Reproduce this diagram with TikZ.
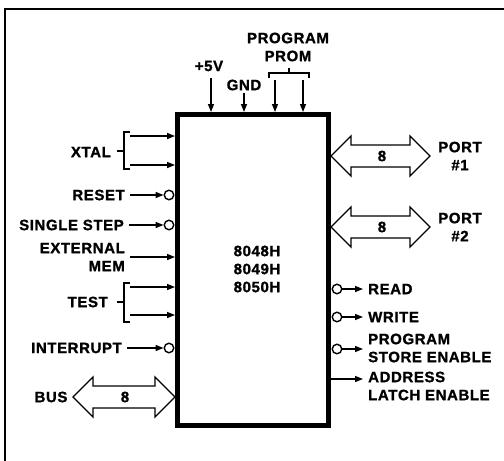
\documentclass[tikz,border=0pt]{standalone}
\usepackage{fontspec}
\setmainfont{Liberation Sans}[LetterSpace=4, BoldFeatures={FakeBold=1.2}]
\usetikzlibrary{arrows.meta}
\newcommand\fatarrow[3]{% left x, right x, y
  \draw[fat] (#1,#3) -- ++(20,-20) -- ++(0,9) -- (#2-20,#3-11) -- ++(0,-9) -- (#2,#3)
    -- ++(-20,20) -- ++(0,-9) -- (#1+20,#3+11) -- ++(0,9) -- cycle;}
\begin{document}
\begin{tikzpicture}[x=1pt,y=-1pt,
  lbl/.style={font=\bfseries\fontsize{15}{18}\selectfont, inner sep=0pt},
  sig/.style={line width=1.4pt, -{Triangle[length=8pt,width=6pt]}},
  wire/.style={line width=1.4pt},
  bub/.style={circle, draw, line width=1.4pt, minimum size=9.5pt, inner sep=0pt, fill=white},
  fat/.style={draw, line width=1.4pt, fill=white, line join=miter},
]
\useasboundingbox (0,0) rectangle (504,461);
% outer frame
\draw[line width=2.5pt] (5,475) -- (5,9) -- (515,9);
% chip
\node[draw, line width=5pt, minimum width=151pt, minimum height=311pt, inner sep=0pt] (chip) at (253,270) {};
\node[lbl, align=center] (partno) at (257,269) {8048H\\8049H\\8050H};

% top inputs
\node[lbl] (v5) at (209,66) {+5V};
\node[lbl] (gnd) at (244,85) {GND};
\node[lbl, align=center] (prom) at (288,47) {PROGRAM\\PROM};
\coordinate (v5s) at (211,78);
\coordinate (gnds) at (244,93);
\coordinate (p1s) at (275,80);
\coordinate (p2s) at (303,80);
\draw[sig] (v5s) -- (v5s |- chip.north);
\draw[sig] (gnds) -- (gnds |- chip.north);
\draw[sig] (p1s) -- (p1s |- chip.north);
\draw[sig] (p2s) -- (p2s |- chip.north);
\draw[wire] (269,78) -- (269,73) -- (309,73) -- (309,78);
\draw[wire] (289,73) -- (289,68);

% XTAL
\node[lbl, anchor=east] (xtal) at (111,152) {XTAL};
\draw[wire] (130,132) -- (124,132) -- (124,169) -- (130,169);
\draw[wire] (117,151) -- (124,151);
\coordinate (x1) at (130,136);
\coordinate (x2) at (130,165);
\draw[sig] (x1) -- (x1 -| chip.west);
\draw[sig] (x2) -- (x2 -| chip.west);

% RESET
\node[lbl, anchor=east] (reset) at (125,195) {RESET};
\node[bub] (rb) at (169,195) {};
\coordinate (rs) at (130,195);
\draw[sig] (rs) -- (rb.west);

% SINGLE STEP
\node[lbl, anchor=east] (sstep) at (124,225) {SINGLE STEP};
\node[bub] (sb) at (169,225) {};
\coordinate (ss) at (129,225);
\draw[sig] (ss) -- (sb.west);

% EXTERNAL MEM
\node[lbl, anchor=east, align=right] (extmem) at (125,257) {EXTERNAL\\MEM};
\coordinate (es) at (130,257);
\draw[sig] (es) -- (es -| chip.west);

% TEST
\node[lbl, anchor=east] (test) at (108,302) {TEST};
\draw[wire] (130,283) -- (124,283) -- (124,322) -- (130,322);
\draw[wire] (117,302) -- (124,302);
\coordinate (t1) at (130,287);
\coordinate (t2) at (130,315);
\draw[sig] (t1) -- (t1 -| chip.west);
\draw[sig] (t2) -- (t2 -| chip.west);

% INTERRUPT
\node[lbl, anchor=east] (intr) at (122,348) {INTERRUPT};
\node[bub] (ib) at (169,348) {};
\coordinate (is) at (127,348);
\draw[sig] (is) -- (ib.west);

% BUS
\node[lbl] (bus) at (51,397) {BUS};
\fatarrow{73}{175}{397}
\node[lbl] (bus8) at (125,397) {8};

% PORTS
\fatarrow{331}{430}{156}
\node[lbl] (p18) at (382,156) {8};
\node[lbl, align=center] (port1) at (460,156) {PORT\\\#1};
\fatarrow{331}{430}{227}
\node[lbl] (p28) at (382,227) {8};
\node[lbl, align=center] (port2) at (460,227) {PORT\\\#2};

% right outputs
\node[bub] (rdb) at (337,289) {};
\node[lbl, anchor=west] (read) at (368,289) {READ};
\coordinate (rde) at (363,289);
\draw[sig] (rdb.east) -- (rde);

\node[bub] (wrb) at (337,317) {};
\node[lbl, anchor=west] (write) at (368,317) {WRITE};
\coordinate (wre) at (363,317);
\draw[sig] (wrb.east) -- (wre);

\node[bub] (psb) at (337,349) {};
\node[lbl, anchor=west, align=left] (psen) at (368,348) {PROGRAM\\STORE ENABLE};
\coordinate (pse) at (363,349);
\draw[sig] (psb.east) -- (pse);

\node[lbl, anchor=west, align=left] (ale) at (368,386) {ADDRESS\\LATCH ENABLE};
\coordinate (ales) at (331,379);
\coordinate (alee) at (363,379);
\draw[sig] (ales) -- (alee);
\end{tikzpicture}
\end{document}
